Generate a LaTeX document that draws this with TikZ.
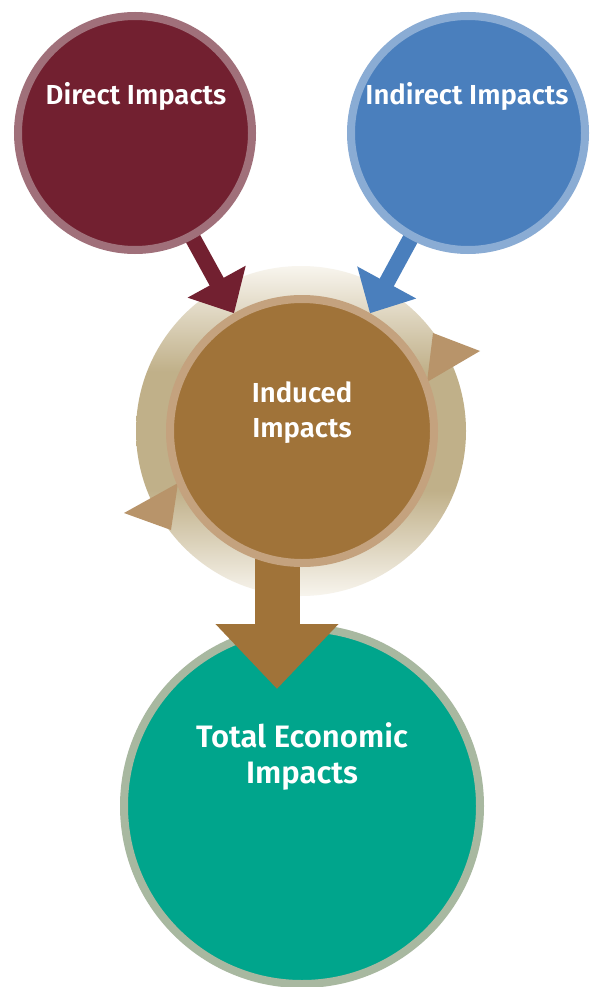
\documentclass[tikz,border=0pt]{standalone}
\usepackage{fontspec}
\setmainfont{Fira Sans}[BoldFont={Fira Sans SemiBold}]
\usetikzlibrary{arrows.meta,calc}
\definecolor{dirF}{HTML}{722030}
\definecolor{dirR}{HTML}{A0707A}
\definecolor{indF}{HTML}{4A7FBD}
\definecolor{indR}{HTML}{8AACD4}
\definecolor{inducF}{HTML}{A07339}
\definecolor{inducR}{HTML}{C4A27E}
\definecolor{haloK}{HTML}{C0B089}
\definecolor{haloW}{HTML}{F8F5EE}
\definecolor{triC}{HTML}{B8946A}
\definecolor{totF}{HTML}{00A58C}
\definecolor{totR}{HTML}{A8B8A0}
\pgfdeclareverticalshading{halosh}{100bp}{color(0bp)=(haloW); color(25bp)=(haloW); color(41bp)=(haloK); color(59bp)=(haloK); color(75bp)=(haloW); color(100bp)=(haloW)}
\pgfdeclarelayer{back}
\pgfdeclarelayer{mid}
\pgfsetlayers{back,mid,main}
\begin{document}
\begin{tikzpicture}[x=1pt,y=-1pt,
  disc/.style={circle,inner sep=0pt,line width=8pt},
  lbl/.style={text=white,align=center,anchor=base},
  tri/.style={fill=triC},
  ]
\useasboundingbox (0,0) rectangle (591,987);
% main circles
\node[disc,minimum size=264pt,draw=inducR,fill=inducF] (induced) at (302,431) {};
\node[disc,minimum size=234pt,draw=dirR,fill=dirF] (direct) at (135,133) {};
\node[disc,minimum size=234pt,draw=indR,fill=indF] (indirect) at (468,133) {};
\begin{pgfonlayer}{back}
  \fill[white] (0,0) rectangle (591,987);
  \node[circle,minimum size=330pt,inner sep=0pt,shading=halosh] (halo) at (301,431) {};
\end{pgfonlayer}
\begin{pgfonlayer}{mid}
  \node[disc,minimum size=356pt,draw=totR,fill=totF] (total) at (302,806) {};
  \coordinate (btip) at (277,689);
  \draw[inducF,line width=45pt,-{Triangle[length=65pt,width=119pt]}] (btip |- induced.center) -- (btip);
  \draw[dirF,line width=16pt,-{Triangle[length=36pt,width=64pt]}] (direct.center) -- (induced.120);
  \draw[indF,line width=16pt,-{Triangle[length=35pt,width=65pt]}] (indirect.center) -- (induced.60);
  \fill[tri] (433,333) -- (480,351) -- (427,382) -- cycle;
  \fill[tri] (178,483) -- (124,513) -- (171,530) -- cycle;
\end{pgfonlayer}
% labels
\node[lbl,font=\bfseries\fontsize{27.5}{32}\selectfont] (tdirect) at ($(direct.center)+(1,-28)$) {Direct Impacts};
\node[lbl,font=\bfseries\fontsize{27.5}{32}\selectfont] (tindirect) at ($(indirect.center)+(-1,-28)$) {Indirect Impacts};
\node[lbl,font=\bfseries\fontsize{27.5}{35}\selectfont] (tinduced) at ($(induced.center)+(0,6)$) {Induced\\Impacts};
\node[lbl,font=\bfseries\fontsize{31}{36}\selectfont] (ttotal) at ($(total.center)+(0,-23)$) {Total Economic\\Impacts};
\end{tikzpicture}
\end{document}
